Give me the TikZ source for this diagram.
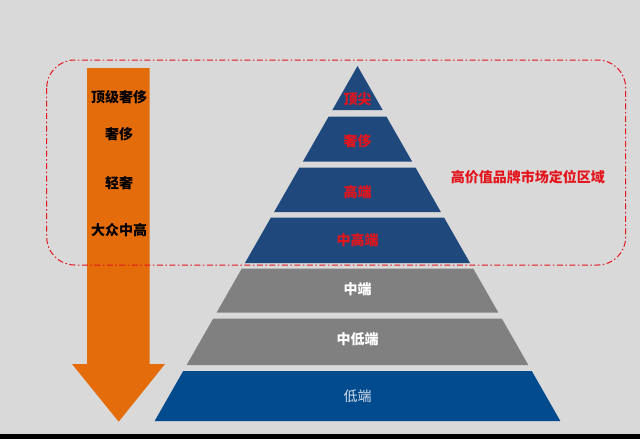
\documentclass[tikz,border=0pt]{standalone}
\usepackage{fontspec}
\newfontfamily\cjk{Noto Sans CJK SC}
\definecolor{bg}{HTML}{D9D9D9}
\definecolor{pblue}{HTML}{1F497D}
\definecolor{lblue}{HTML}{004B8D}
\definecolor{pgray}{HTML}{808080}
\definecolor{porange}{HTML}{E46C0A}
\definecolor{tred}{HTML}{E3141B}
\definecolor{lowtext}{HTML}{D5DDEA}
\tikzset{
  lvltext/.style={font=\cjk\bfseries\fontsize{14}{16}\selectfont, inner sep=0pt},
  redtext/.style={lvltext, text=tred},
  whitetext/.style={lvltext, text=white},
  arrtext/.style={font=\cjk\bfseries\fontsize{14}{16}\selectfont, text=black, inner sep=0pt},
  zone/.style={draw=tred, line width=1pt, rounded corners=28pt,
    dash pattern=on 6pt off 2.5pt on 1.5pt off 2.5pt}
}
\newcommand\pyrlayer[3]{%
  \fill[#3] ({357.5-0.5714*(#1-66)},#1) -- ({357.5+0.5714*(#1-66)},#1)
    -- ({357.5+0.5714*(#2-66)},#2) -- ({357.5-0.5714*(#2-66)},#2) -- cycle;}
\begin{document}
\begin{tikzpicture}[x=1pt,y=-1pt]
\fill[bg] (0,0) rectangle (640,439);
\useasboundingbox (0,0) rectangle (640,439);
\fill[black] (0,434) rectangle (640,439);
% arrow
\fill[porange] (87,68) -- (149.5,68) -- (149.5,364) -- (165,364) -- (118.7,421.7)
  -- (72,364) -- (87,364) -- cycle;
% pyramid
\fill[pblue] (357.5,66) -- ({357.5+0.5714*44},110) -- ({357.5-0.5714*44},110) -- cycle;
\pyrlayer{116.5}{161.5}{pblue}
\pyrlayer{167.5}{212}{pblue}
\pyrlayer{217.5}{263}{pblue}
\pyrlayer{268.5}{312.5}{pgray}
\pyrlayer{318.5}{365}{pgray}
\pyrlayer{371}{421}{lblue}
% pyramid labels
\node[redtext] (l1) at (357.5,99) {顶尖};
\node[redtext] (l2) at (357.5,141) {奢侈};
\node[redtext] (l3) at (357.5,192) {高端};
\node[redtext] (l4) at (357.5,240) {中高端};
\node[whitetext] (l5) at (357.5,289) {中端};
\node[whitetext] (l6) at (357.5,339) {中低端};
\node[lvltext, text=lowtext, font=\cjk\fontsize{14}{16}\selectfont] (l7) at (357.5,396) {低端};
% arrow labels
\node[arrtext] (a1) at (119,96.7) {顶级奢侈};
\node[arrtext] (a2) at (119,134) {奢侈};
\node[arrtext] (a3) at (119,182.7) {轻奢};
\node[arrtext] (a4) at (119,230) {大众中高};
% zone
\draw[zone] (46.7,60) rectangle (625.7,265);
\node[redtext] (zl) at (527.8,176.7) {高价值品牌市场定位区域};
\end{tikzpicture}
\end{document}
